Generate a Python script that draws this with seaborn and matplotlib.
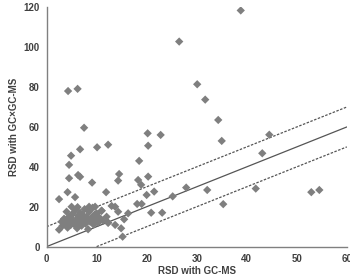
import numpy as np
import pandas as pd
import seaborn as sns
import matplotlib.pyplot as plt

# RSD values (%)
rsd_gcms = [38.8, 26.5, 4.3, 6.2, 7.5, 20.2, 22.8, 30.1, 31.7, 34.3, 44.5, 35.0,
            2.5, 4.9, 4.5, 4.5, 4.2, 6.7, 6.3, 6.7, 9.1, 10.1, 12.3, 11.9, 14.5,
            14.3, 18.5, 20.3, 18.3, 18.9, 20.3, 20.0, 21.5, 18.1, 19.0, 20.9, 23.1,
            13.0, 13.7, 14.3, 16.3, 15.5, 13.7, 14.9, 15.2, 12.3, 11.0, 27.9, 32.1,
            35.3, 43.1, 41.8, 52.9, 54.5, 25.2, 5.7,
            2.5, 3.0, 3.2, 3.5, 3.8, 4.0, 4.2, 4.5, 4.6, 4.8, 5.0, 5.2, 5.4, 5.6,
            5.8, 6.0, 6.1, 6.3, 6.5, 6.7, 6.9, 7.0, 7.2, 7.4, 7.6, 7.8, 8.0, 8.2,
            8.3, 8.5, 8.7, 9.0, 9.2, 9.4, 9.6, 9.8, 10.0, 10.3, 10.6, 11.0, 11.3,
            12.0, 12.3, 4.0, 5.0, 6.2, 8.5, 9.7]
rsd_gcxgc = [118.4, 102.8, 78.0, 79.1, 59.6, 56.8, 56.0, 81.4, 73.7, 63.5, 56.1, 53.0,
             23.8, 45.6, 41.0, 34.3, 27.3, 48.8, 35.9, 35.0, 32.1, 49.8, 51.1, 27.3, 36.4,
             33.1, 43.0, 50.6, 33.4, 31.0, 35.1, 25.9, 27.6, 21.4, 21.4, 17.0, 17.0,
             20.4, 20.0, 17.5, 16.7, 13.7, 10.9, 9.2, 5.0, 12.0, 18.0, 29.6, 28.4,
             21.3, 46.8, 29.1, 27.3, 28.4, 25.2, 24.8,
             8.5, 12.5, 10.5, 14.0, 11.5, 13.0, 9.5, 15.0, 12.0, 10.8, 14.2, 16.5, 12.8, 11.0,
             18.5, 13.5, 9.2, 15.5, 12.0, 17.0, 14.0, 10.5, 16.0, 13.0, 18.8, 11.5, 15.0, 13.5,
             8.7, 17.5, 12.5, 14.5, 19.5, 11.0, 16.0, 13.0, 16.7, 12.0, 14.5, 18.0, 13.0,
             15.0, 12.0, 17.5, 20.0, 19.8, 20.0, 20.0]

# reference lines: y = x, y = x + 10, y = x - 10
line_x = [0, 60]
upper_x = [0, 60]
lower_x = [10, 60]
offset = 10

df = pd.DataFrame({"gcms": rsd_gcms, "gcxgc": rsd_gcxgc})

sns.set_style("white")
plt.rcParams["font.family"] = ["Liberation Sans", "DejaVu Sans"]

fig = plt.figure(figsize=(3.5, 2.79), dpi=100)
ax = fig.add_axes([0.133, 0.116, 0.858, 0.858])

sns.scatterplot(data=df, x="gcms", y="gcxgc", marker="D", color="#7f7f7f",
                s=18, edgecolor="none", ax=ax, zorder=3)

ax.plot(line_x, line_x, color="#555555", lw=0.9)
ax.plot(upper_x, [v + offset for v in upper_x], color="#555555", lw=0.9, dashes=(2, 1.2))
ax.plot(lower_x, [v - offset for v in lower_x], color="#555555", lw=0.9, dashes=(2, 1.2))

ax.set_xlim(0, 60)
ax.set_ylim(0, 120)
ax.set_xticks(range(0, 61, 10))
ax.set_yticks(range(0, 121, 20))
ax.set_xlabel("RSD with GC-MS", fontsize=7, fontweight="bold", color="#404040", labelpad=2)
ax.set_ylabel("RSD with GC\u00d7GC-MS", fontsize=7, fontweight="bold", color="#404040", labelpad=3)
ax.tick_params(axis="both", labelsize=7, colors="#404040", length=3, width=0.8,
               direction="out", pad=2)
for lab in ax.get_xticklabels() + ax.get_yticklabels():
    lab.set_fontweight("bold")

sns.despine(ax=ax)
for sp in ["left", "bottom"]:
    ax.spines[sp].set_color("#808080")
    ax.spines[sp].set_linewidth(1.0)

fig.savefig("out.png", dpi=100)
